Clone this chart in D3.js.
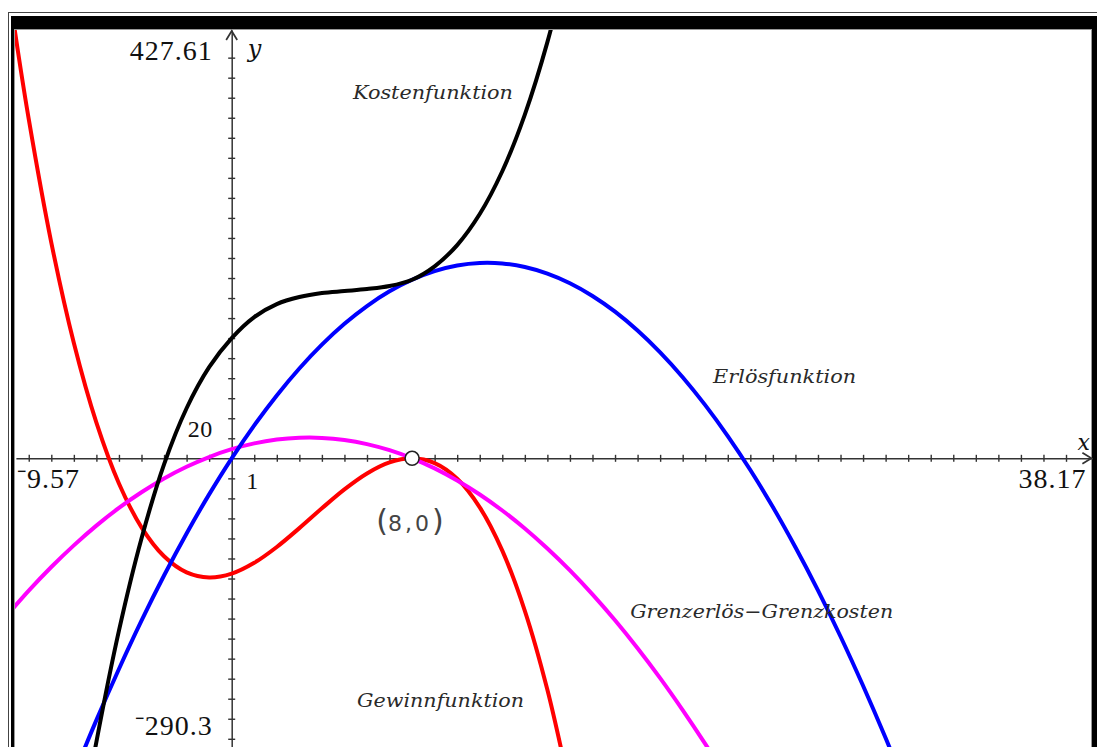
<!DOCTYPE html>
<html>
<head>
<meta charset="utf-8">
<script src="https://cdn.jsdelivr.net/npm/d3@7"></script>
<style>
  html, body { margin: 0; padding: 0; background: #fff; }
  svg { display: block; }
</style>
</head>
<body>
<svg id="chart" width="1097" height="747"></svg>
<script>
// Graph window and axis scale
const xWindow = [-9.57, 38.17];
const yWindow = [-290.3, 427.61];
const xScaleStep = 1;
const yScaleStep = 20;

// Kostenfunktion K(x)
const kostenX = [-7,-6,-5,-4,-3,-2,-1,0,1,2,3,4,5,6,7,8,9,10,11,12,13,14,15];
const kostenY = [-410,-283,-172,-80,-6,50,91,120,141,154,161,165,167,169,172,178.3,191.7,212.9,243.9,286.6,343.2,415.5,505.5];

// Erlösfunktion E(x)
const erloesX = [-7,-6,-5,-4,-3,-2,-1,0,1,2,3,4,5,6,7,8,9,10,11,12,13,14,15,16,17,18,19,20,21,22,23,24,25,26,27,28,29,30];
const erloesY = [-315.6,-261.4,-210.3,-162.1,-117.0,-75.0,-36.0,0,32.9,62.8,89.7,113.5,134.3,152.0,166.7,178.3,186.9,192.5,195.0,194.5,191.0,184.4,174.8,162.1,146.4,127.6,105.8,81.0,53.1,22.2,-11.7,-48.7,-88.8,-131.8,-177.9,-227.1,-279.3,-334.5];

// Gewinnfunktion G(x) = E(x) - K(x)
const gewinnX = [-10,-9.5,-9,-8,-7,-6,-5,-4,-3,-2,-1,0,1,2,3,4,5,6,7,8,9,10,11,12,13,14,15];
const gewinnY = [486.5,409.3,338.6,215.4,115.1,35.6,-25.1,-68.9,-97.8,-113.9,-118.9,-115.1,-104.3,-88.5,-69.7,-49.9,-31.0,-15.1,-4.1,0,-4.8,-20.4,-48.9,-92.1,-152.2,-231.1,-330.7];

// Grenzerlös - Grenzkosten
const grenzX = [-10,-9,-8,-7,-6,-5,-4,-3,-2,-1,0,1,2,3,4,5,6,7,8,9,10,11,12,13,14,15,16,17,18,19,20,21,22];
const grenzY = [-157.7,-132.1,-108.5,-86.9,-67.2,-49.5,-33.9,-20.1,-8.4,1.3,9.1,14.9,18.7,20.5,20.4,18.3,14.2,8.1,0,-10.0,-22.1,-36.1,-52.1,-70.0,-90.0,-111.9,-135.8,-161.7,-189.6,-219.4,-251.3,-285.1,-320.9];

// Marked point
const pointX = [8];
const pointY = [0];

const svg = d3.select("#chart");
const W = 1097, H = 747;

// screen frame
svg.append("rect").attr("x", 0).attr("y", 0).attr("width", W).attr("height", H).attr("fill", "#fff");
svg.append("rect").attr("x", 8.5).attr("y", 12.5).attr("width", W + 10).attr("height", H + 10)
  .attr("fill", "none").attr("stroke", "#444").attr("stroke-width", 1);
svg.append("rect").attr("x", 11).attr("y", 16).attr("width", W).attr("height", 13).attr("fill", "#000");
svg.append("rect").attr("x", 11).attr("y", 16).attr("width", 3).attr("height", H).attr("fill", "#000");
svg.append("rect").attr("x", 1092).attr("y", 16).attr("width", 6).attr("height", H).attr("fill", "#000");
svg.append("rect").attr("x", 14.5).attr("y", 29.5).attr("width", 1077).attr("height", H)
  .attr("fill", "none").attr("stroke", "#999").attr("stroke-width", 1);

const x = d3.scaleLinear().domain(xWindow).range([15.9, 1092.4]);
const y = d3.scaleLinear().domain(yWindow).range([749.1, 30]);

svg.append("clipPath").attr("id", "plot")
  .append("rect").attr("x", 15).attr("y", 30).attr("width", 1077).attr("height", 720);

const axisColor = "#333";

// x axis with crossing ticks
const xTicks = d3.range(Math.ceil(xWindow[0]), Math.floor(xWindow[1]), xScaleStep);
const gx = svg.append("g").attr("transform", `translate(0,${y(0)})`)
  .call(d3.axisBottom(x).tickValues(xTicks).tickSize(7).tickSizeOuter(0).tickFormat(""));
gx.select(".domain").attr("stroke", axisColor).attr("stroke-width", 1.5);
gx.selectAll(".tick line").attr("y1", -3.5).attr("y2", 3.5).attr("stroke", axisColor).attr("stroke-width", 1.4);

// y axis with crossing ticks
const yTicks = d3.range(Math.ceil(yWindow[0] / yScaleStep) * yScaleStep, yWindow[1] - yScaleStep, yScaleStep).filter(v => v !== 0);
const gy = svg.append("g").attr("transform", `translate(${x(0)},0)`)
  .call(d3.axisLeft(y).tickValues(yTicks).tickSize(7).tickSizeOuter(0).tickFormat(""));
gy.select(".domain").attr("stroke", axisColor).attr("stroke-width", 1.5);
gy.selectAll(".tick line").attr("x1", -3.5).attr("x2", 3.5).attr("stroke", axisColor).attr("stroke-width", 1.4);

// arrow heads
const xTip = x(xWindow[1]) - 1, yTip = y(yWindow[1]) + 1;
svg.append("path")
  .attr("d", `M${xTip - 9},${y(0) - 5.5} L${xTip},${y(0)} L${xTip - 9},${y(0) + 5.5}`)
  .attr("fill", "none").attr("stroke", axisColor).attr("stroke-width", 1.7);
svg.append("path")
  .attr("d", `M${x(0) - 5.5},${yTip + 9} L${x(0)},${yTip} L${x(0) + 5.5},${yTip + 9}`)
  .attr("fill", "none").attr("stroke", axisColor).attr("stroke-width", 1.7);

// curves
const line = d3.line().x(d => x(d[0])).y(d => y(d[1])).curve(d3.curveCatmullRom.alpha(0.5));
const curves = [
  { xs: gewinnX, ys: gewinnY, color: "#ff0000" },
  { xs: grenzX, ys: grenzY, color: "#ff00ff" },
  { xs: erloesX, ys: erloesY, color: "#0000ff" },
  { xs: kostenX, ys: kostenY, color: "#000000" }
];
const gc = svg.append("g").attr("clip-path", "url(#plot)");
curves.forEach(c => {
  gc.append("path")
    .datum(d3.zip(c.xs, c.ys))
    .attr("d", line)
    .attr("fill", "none")
    .attr("stroke", c.color)
    .attr("stroke-width", 4)
    .attr("stroke-linejoin", "round")
    .attr("stroke-linecap", "round");
});

// marked point
svg.selectAll("circle.pt").data(d3.zip(pointX, pointY)).join("circle")
  .attr("class", "pt")
  .attr("cx", d => x(d[0])).attr("cy", d => y(d[1])).attr("r", 7)
  .attr("fill", "#fff").attr("stroke", "#222").attr("stroke-width", 1.6);

const pointLabel = svg.append("text")
  .attr("x", x(pointX[0]) - 2).attr("y", y(pointY[0]) + 73)
  .attr("text-anchor", "middle")
  .attr("font-family", "'DejaVu Sans', sans-serif")
  .attr("fill", "#444");
pointLabel.append("tspan").attr("font-size", 30).text("(");
pointLabel.append("tspan").attr("font-size", 22).attr("letter-spacing", 3).text(`${pointX[0]},${pointY[0]}`);
pointLabel.append("tspan").attr("font-size", 30).text(")");

// window and scale labels
const fmt = v => String(v).replace("-", "\u207B");
const numFont = "'Liberation Serif', 'Times New Roman', serif";
function num(txt, px, py, anchor, size, spacing) {
  svg.append("text").attr("x", px).attr("y", py).attr("text-anchor", anchor)
    .attr("font-family", numFont).attr("font-size", size).attr("letter-spacing", spacing)
    .attr("fill", "#111").text(txt);
}
num(fmt(yWindow[1]), x(0) - 19, 60, "end", 28, 1);
num(fmt(yWindow[0]), x(0) - 19, 735, "end", 28, 1);
num(fmt(xWindow[0]), x(xWindow[0]) + 1, y(0) + 30, "start", 28, 1);
num(fmt(xWindow[1]), x(xWindow[1]) - 6, y(0) + 30, "end", 28, 1);
num(String(yScaleStep), x(0) - 19, y(yScaleStep) - 1, "end", 24, 0.5);
num(String(xScaleStep), x(xScaleStep) - 2, y(0) + 31, "middle", 24, 0);

const axName = (t, px, py, size) => svg.append("text").attr("x", px).attr("y", py)
  .attr("font-family", "'DejaVu Serif', serif").attr("font-style", "italic")
  .attr("font-size", size).attr("fill", "#111").text(t);
axName("y", x(0) + 16, 57, 24);
axName("x", x(xWindow[1]) - 15, y(0) - 8, 22);

// curve names
const names = [
  { t: "Kostenfunktion", fx: 5.38, fy: 358.7, w: 160 },
  { t: "Erlösfunktion", fx: 21.35, fy: 75, w: 143 },
  { t: "Grenzerlös\u2212Grenzkosten", fx: 17.67, fy: -159.5, w: 263 },
  { t: "Gewinnfunktion", fx: 5.56, fy: -248.3, w: 167 }
];
names.forEach(n => {
  svg.append("text")
    .attr("x", x(n.fx)).attr("y", y(n.fy))
    .attr("font-family", "'DejaVu Serif', serif")
    .attr("font-style", "italic")
    .attr("font-size", 19)
    .attr("fill", "#2a2a2a")
    .attr("textLength", n.w)
    .attr("lengthAdjust", "spacingAndGlyphs")
    .text(n.t);
});
</script>
</body>
</html>
